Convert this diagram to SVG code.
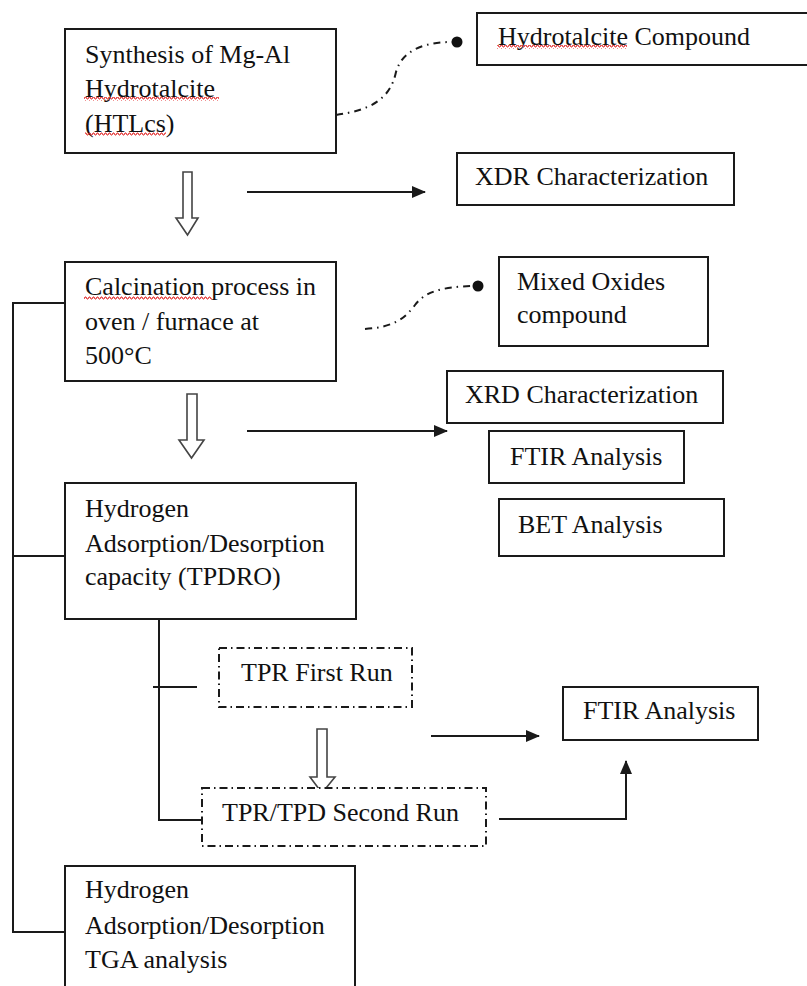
<svg xmlns="http://www.w3.org/2000/svg" width="807" height="986" viewBox="0 0 807 986">
<style>
.box{fill:#fff;stroke:#1a1a1a;stroke-width:2}
.dbox{fill:#fff;stroke:#1a1a1a;stroke-width:2;stroke-dasharray:8 4 1.5 4}
.t{font-family:"Liberation Serif","Times New Roman",serif;font-size:26px;fill:#111}
.ln{fill:none;stroke:#1a1a1a;stroke-width:2}
.curve{fill:none;stroke:#1a1a1a;stroke-width:2;stroke-dasharray:7 5 1.5 5}
.hollow{fill:#fff;stroke:#444;stroke-width:1.6}
.sq{fill:url(#zig)}
</style>
<defs>
<marker id="ah" markerWidth="14" markerHeight="12" refX="13" refY="6" orient="auto" markerUnits="userSpaceOnUse">
<path d="M0,0 L14,6 L0,12 Z" fill="#1a1a1a"/>
</marker>
<pattern id="zig" width="4" height="4" patternUnits="userSpaceOnUse">
<path d="M0,3 L1,1 L2,1 L3,3 L4,3" fill="none" stroke="#e02020" stroke-width="1"/>
</pattern>
</defs>

<g id="connectors">
<path class="curve" d="M336,115 C370,110 390,100 396,72 C402,50 425,42 452,42"/>
<circle cx="457" cy="42" r="5.5" fill="#111"/>
<path class="curve" d="M365,329 C395,327 405,318 415,305 C425,292 440,287 473,286"/>
<circle cx="478" cy="286" r="5.5" fill="#111"/>
<polygon class="hollow" points="183,172 192,172 192,218 198,218 187.5,235 176,218 183,218"/>
<polygon class="hollow" points="187,394 197,394 197,440 204,440 191.5,458 179,440 187,440"/>
<polygon class="hollow" points="317,729 327,729 327,777 335,777 322,793 310,777 317,777"/>
<line class="ln" x1="247" y1="192" x2="425" y2="192" marker-end="url(#ah)"/>
<line class="ln" x1="247" y1="431" x2="447" y2="431" marker-end="url(#ah)"/>
<line class="ln" x1="431" y1="736" x2="539" y2="736" marker-end="url(#ah)"/>
<path class="ln" d="M499,819 H626 V761" marker-end="url(#ah)"/>
<path class="ln" d="M65,303 H13 V932 H65"/>
<line class="ln" x1="13" y1="556" x2="65" y2="556"/>
<path class="ln" d="M159,619 V820 H202"/>
<line class="ln" x1="153" y1="687" x2="197" y2="687"/>
</g>

<g id="synthesis">
<rect class="box" x="65" y="29" width="271" height="124"/>
<text class="t" x="85" y="63">Synthesis of Mg-Al</text>
<text class="t" x="85" y="97">Hydrotalcite</text>
<text class="t" x="85" y="132">(HTLcs)</text>
<rect class="sq" x="84" y="97" width="135" height="4"/>
<rect class="sq" x="85" y="132" width="81" height="4"/>
</g>

<g id="hydrotalcite-compound">
<rect class="box" x="477" y="13" width="340" height="52"/>
<text class="t" x="498" y="45">Hydrotalcite Compound</text>
<rect class="sq" x="497" y="45" width="130" height="4"/>
</g>

<g id="xdr">
<rect class="box" x="457" y="153" width="277" height="52"/>
<text class="t" x="475" y="185">XDR Characterization</text>
</g>

<g id="calcination">
<rect class="box" x="65" y="262" width="271" height="119"/>
<text class="t" x="85" y="295">Calcination process in</text>
<text class="t" x="85" y="330">oven / furnace at</text>
<text class="t" x="85" y="364">500°C</text>
<rect class="sq" x="84" y="296" width="128" height="4"/>
</g>

<g id="mixed-oxides">
<rect class="box" x="499" y="257" width="209" height="89"/>
<text class="t" x="517" y="290">Mixed Oxides</text>
<text class="t" x="517" y="323">compound</text>
</g>

<g id="xrd">
<rect class="box" x="447" y="371" width="276" height="52"/>
<text class="t" x="465" y="403">XRD Characterization</text>
</g>

<g id="ftir1">
<rect class="box" x="489" y="431" width="195" height="52"/>
<text class="t" x="510" y="465">FTIR Analysis</text>
</g>

<g id="bet">
<rect class="box" x="499" y="499" width="225" height="57"/>
<text class="t" x="518" y="533">BET Analysis</text>
</g>

<g id="tpdro">
<rect class="box" x="65" y="483" width="291" height="136"/>
<text class="t" x="85" y="517">Hydrogen</text>
<text class="t" x="85" y="552">Adsorption/Desorption</text>
<text class="t" x="85" y="585">capacity (TPDRO)</text>
</g>

<g id="tpr-first">
<rect class="dbox" x="219" y="648" width="193" height="59"/>
<text class="t" x="241" y="681">TPR First Run</text>
</g>

<g id="ftir2">
<rect class="box" x="563" y="687" width="195" height="53"/>
<text class="t" x="583" y="719">FTIR Analysis</text>
</g>

<g id="tpr-second">
<rect class="dbox" x="202" y="788" width="284" height="58"/>
<text class="t" x="222" y="821">TPR/TPD Second Run</text>
</g>

<g id="tga">
<rect class="box" x="65" y="866" width="290" height="140"/>
<text class="t" x="85" y="898">Hydrogen</text>
<text class="t" x="85" y="934">Adsorption/Desorption</text>
<text class="t" x="85" y="968">TGA analysis</text>
</g>
</svg>
